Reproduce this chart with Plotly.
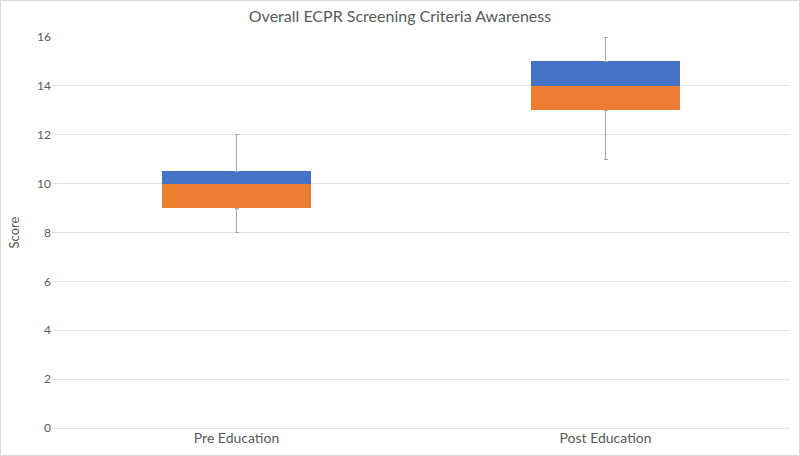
import plotly.graph_objects as go

categories = ["Pre Education", "Post Education"]
minimum = [8, 11]
q1 = [9, 13]
median = [10, 14]
q3 = [10.5, 15]
maximum = [12, 16]

lower_box = [m - a for m, a in zip(median, q1)]
upper_box = [b - m for b, m in zip(q3, median)]
lower_whisker = [a - mn for a, mn in zip(q1, minimum)]
upper_whisker = [mx - b for mx, b in zip(maximum, q3)]

W, H = 800, 456
ml, mr, mt, mb = 52, 10, 37, 28
pw, ph = W - ml - mr, H - mt - mb

err_style = dict(color="#a6a6a6", thickness=1, width=2)
grey = "#595959"

fig = go.Figure()
fig.add_trace(go.Bar(
    x=categories, y=q1, marker=dict(color="rgba(0,0,0,0)", line=dict(width=0)),
    error_y=dict(type="data", symmetric=False, array=[0, 0], arrayminus=lower_whisker, **err_style),
    hoverinfo="skip", showlegend=False, width=0.405,
))
fig.add_trace(go.Bar(
    x=categories, y=lower_box, marker=dict(color="#ed7d31", line=dict(width=0)),
    showlegend=False, width=0.405,
))
fig.add_trace(go.Bar(
    x=categories, y=upper_box, marker=dict(color="#4472c4", line=dict(width=0)),
    error_y=dict(type="data", symmetric=False, array=upper_whisker, arrayminus=[0, 0], **err_style),
    showlegend=False, width=0.405,
))

fig.update_layout(
    barmode="stack",
    width=W, height=H,
    margin=dict(l=ml, r=mr, t=mt, b=mb),
    paper_bgcolor="white", plot_bgcolor="white",
    font=dict(family="Lato, Open Sans, sans-serif", color=grey, size=12),
    title=dict(text="Overall ECPR Screening Criteria Awareness", x=0.5, xanchor="center",
               y=1 - 16 / H, yanchor="middle", font=dict(size=16, color=grey)),
    xaxis=dict(showgrid=False, showline=False, ticks="", tickfont=dict(size=14, color=grey)),
    yaxis=dict(range=[0, 16], dtick=2, gridcolor="#e3e3e3", gridwidth=1, zeroline=True,
               zerolinecolor="#e3e3e3", zerolinewidth=1,
               showline=False, ticks="", tickfont=dict(size=12, color=grey),
               title=dict(text="Score", font=dict(size=13, color=grey), standoff=14)),
    bargap=0.6,
    shapes=[dict(type="rect", xref="paper", yref="paper",
                 x0=-ml / pw + 0.5 / pw, x1=1 + mr / pw - 0.5 / pw,
                 y0=-mb / ph + 0.5 / ph, y1=1 + mt / ph - 0.5 / ph,
                 line=dict(color="#d9d9d9", width=1), layer="below")],
)

fig.write_html("out.html", config={"displayModeBar": False},
               post_script="document.body.style.margin='0px';")
